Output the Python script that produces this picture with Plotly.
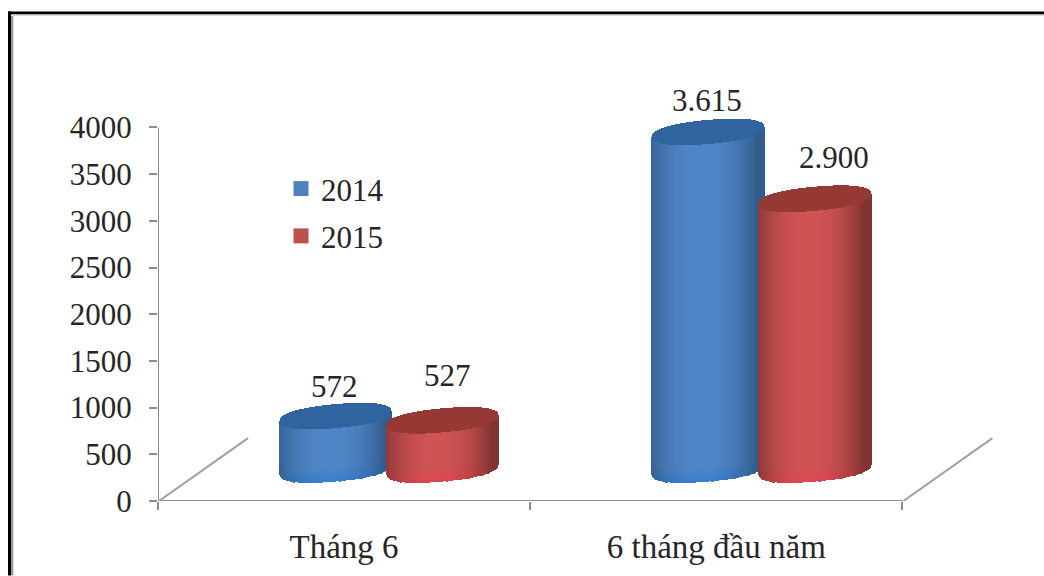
import numpy as np
import plotly.graph_objects as go

categories = ["Tháng 6", "6 tháng đầu năm"]
series_names = ["2014", "2015"]
values_2014 = [572, 3615]
values_2015 = [527, 2900]
labels_2014 = ["572", "3.615"]
labels_2015 = ["527", "2.900"]
y_ticks = [0, 500, 1000, 1500, 2000, 2500, 3000, 3500, 4000]

PAGE = 0
W, H = 1044 - PAGE, 576 - PAGE
L, R, T, B = 158, 1000, 100, 501.5
PX_X = 372.2
PX_Y = 374 / 4000
FONT = "Liberation Serif"
TXT = "#262626"
AX = "#8c8c8c"

def ux(p):
    return p / PX_X

def uy(p):
    return p / PX_Y

def xp(s):
    return (s - L) / (R - L)

def yp(s):
    return (B - s) / (B - T)

styles = {
    "2014": dict(edge=(50, 92, 140), mid=(80, 134, 200), cap=(48, 100, 158), glow=(56, 128, 205), sq="#4f81bd"),
    "2015": dict(edge=(128, 52, 50), mid=(208, 84, 84), cap=(150, 56, 52), glow=(222, 72, 80), sq="#c0504d"),
}

def mix(a, b, f):
    return "rgb(%d,%d,%d)" % tuple(a[i] + (b[i] - a[i]) * f for i in range(3))

RADIUS, MINOR, TILT, FLOOR, ROUND = 55.5, 12.0, 5.0, 31.5, 2.3
OFFS = {"2014": -8.0, "2015": 99.0}

fig = go.Figure()

def arc(t, sign):
    return TILT * t + sign * MINOR * np.clip(1 - np.abs(t) ** ROUND, 0, 1) ** (1 / ROUND)

def bar_strips(xs, base, height, colors):
    fig.add_trace(go.Bar(x=xs, y=uy(height), base=uy(base), width=ux(1.7),
                         marker=dict(color=colors, line_width=0), showlegend=False, hoverinfo="skip"))

def cylinder(cat, val, name):
    st = styles[name]
    cx = cat + 0.5 + ux(OFFS[name])
    px = np.arange(-RADIUS, RADIUS + 1, 1.0)
    t = np.clip(px / RADIUS, -1, 1)
    xs = cx + ux(px)
    low = FLOOR + arc(t, -1)
    top = FLOOR + val * PX_Y + arc(t, -1)
    shade = np.clip(1 - np.abs(t + 0.1) ** 2.2, 0, 1)
    bar_strips(xs, low, top - low, [mix(st["edge"], st["mid"], s) for s in shade])
    # brighter band at the foot of the wall, fading upward
    for rim, f in [(12.0, 0.35), (8.0, 0.6), (4.5, 0.85), (2.0, 1.0)]:
        mid2 = tuple(st["mid"][i] + (st["glow"][i] - st["mid"][i]) * f for i in range(3))
        c = [mix(st["edge"], mid2, s) for s in shade]
        bar_strips(xs, low, np.full_like(low, min(rim, val * PX_Y / 3)), c)
    # top cap
    c_low = FLOOR + val * PX_Y + arc(t, -1)
    c_up = FLOOR + val * PX_Y + arc(t, 1)
    bar_strips(xs, c_low, c_up - c_low, mix(st["cap"], st["cap"], 0))

for i in range(2):
    cylinder(i, values_2014[i], "2014")
    cylinder(i, values_2015[i], "2015")

# axis lines and floor edges
line = dict(color=AX, width=2)
fig.add_trace(go.Scatter(x=[0, 0], y=[0, y_ticks[-1]], mode="lines", line=line, showlegend=False, hoverinfo="skip", cliponaxis=False))
fig.add_trace(go.Scatter(x=[0, 2], y=[0, 0], mode="lines", line=line, showlegend=False, hoverinfo="skip", cliponaxis=False))
for x0 in [0, 2]:
    fig.add_trace(go.Scatter(x=[x0 + ux(1), x0 + ux(90)], y=[0, uy(63)], mode="lines",
                             line=dict(color="#a0a0a0", width=2), showlegend=False, hoverinfo="skip"))

# legend entries
for name in series_names:
    fig.add_trace(go.Scatter(x=[None], y=[None], mode="markers", name=name, legendgroup=name,
                             marker=dict(symbol="square", size=15, color=styles[name]["sq"])))

# value labels
label_shift = {("2014", 0): (-2, 30), ("2015", 0): (4.5, 45), ("2014", 1): (-1, 31), ("2015", 1): (19, 41)}
ann = []
for name, vals, texts in [("2014", values_2014, labels_2014), ("2015", values_2015, labels_2015)]:
    for i in range(2):
        dx, dy = label_shift[(name, i)]
        ann.append(dict(x=i + 0.5 + ux(OFFS[name]), y=vals[i] + uy(FLOOR), text=texts[i], showarrow=False,
                        xshift=dx, yshift=dy, yanchor="middle", xanchor="center",
                        font=dict(family=FONT, size=31, color=TXT)))

def band(x0, x1, y0, y1, color):
    return dict(type="rect", xref="paper", yref="paper", x0=xp(x0), x1=xp(x1), y0=yp(y0), y1=yp(y1),
                line_width=0, fillcolor=color, layer="above")

frame = [
    band(11, 13, 12, 576, "#9a9a9a"),
    band(13, 14, 12, 576, "#dcdcdc"),
    band(8, 1044, 14, 15, "#a8a8a8"),
    band(8, 1044, 15, 16, "#e0e0e0"),
    band(8, 11, 11.5, 576, "#000000"),
    band(8, 1044, 11.5, 14, "#000000"),
]

fig.update_layout(
    width=W, height=H, autosize=False,
    margin=dict(l=L - PAGE, r=W - (R - PAGE), t=T - PAGE, b=H - (B - PAGE), pad=0, autoexpand=False),
    paper_bgcolor="white", plot_bgcolor="white",
    barmode="overlay", bargap=0,
    font=dict(family=FONT, size=31, color=TXT),
    annotations=ann,
    shapes=frame,
    xaxis=dict(range=[0, (R - L) / PX_X], showgrid=False, zeroline=False, showline=False, automargin=False,
               tickmode="array", tickvals=[0.5, 1.5], ticktext=categories, ticks="",
               ticklabelstandoff=23, tickfont=dict(family=FONT, size=33, color=TXT),
               minor=dict(tickmode="array", tickvals=[0, 1, 2], ticks="outside", ticklen=8, tickwidth=2, tickcolor=AX)),
    yaxis=dict(range=[0, (B - T) / PX_Y], showgrid=False, zeroline=False, showline=False, automargin=False,
               tickmode="array", tickvals=y_ticks, ticktext=[str(v) for v in y_ticks],
               ticks="outside", ticklen=8, tickwidth=2, tickcolor=AX, ticklabelstandoff=11,
               tickfont=dict(family=FONT, size=31, color=TXT)),
    legend=dict(x=xp(281), y=yp(162), xanchor="left", yanchor="top",
                bgcolor="rgba(0,0,0,0)", tracegroupgap=4, font=dict(family=FONT, size=31, color=TXT),
                itemwidth=30),
)

fig.write_html("out.html", default_width=f"{W}px", default_height=f"{H}px",
               config={"displayModeBar": False},
               post_script="document.body.style.margin='0';document.documentElement.style.overflow='hidden';")
